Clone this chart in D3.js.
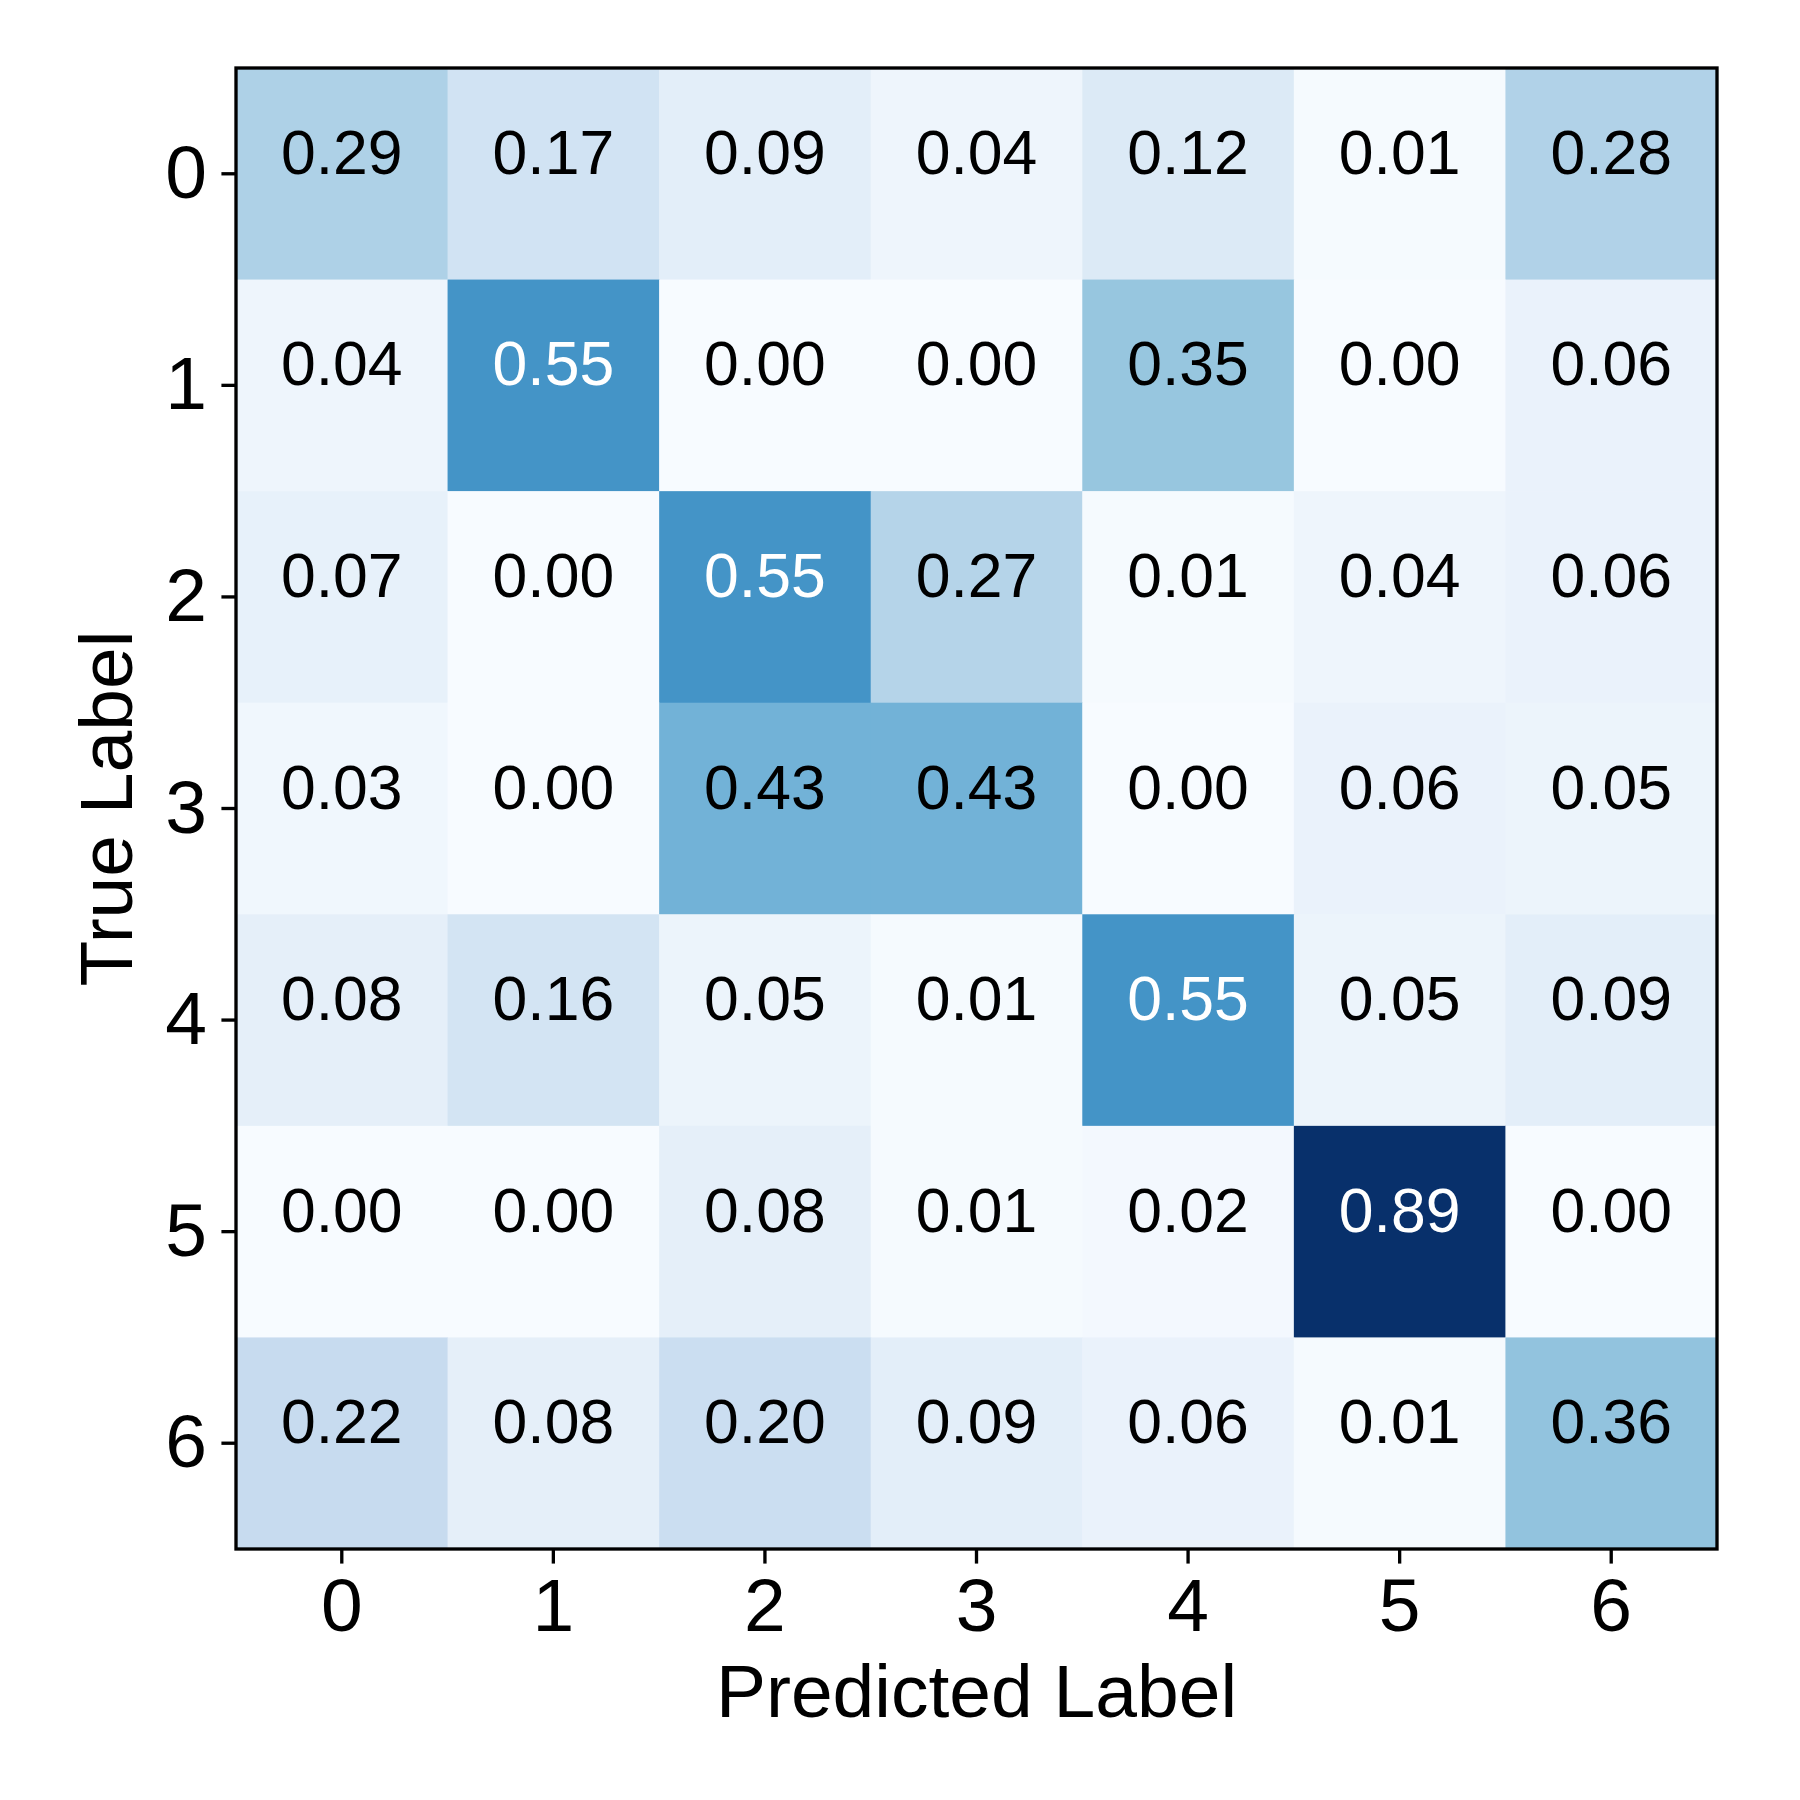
<!DOCTYPE html>
<html>
<head>
<meta charset="utf-8">
<script src="https://cdn.jsdelivr.net/npm/d3@7"></script>
<style>
  body { margin: 0; background: #fff; }
  text { font-family: "Liberation Sans", Arial, sans-serif; }
</style>
</head>
<body>
<div id="chart"></div>
<script>
// confusion matrix, rows = true label, cols = predicted label
const labels = ["0", "1", "2", "3", "4", "5", "6"];
const row0 = [0.29, 0.17, 0.09, 0.04, 0.12, 0.01, 0.28];
const row1 = [0.04, 0.55, 0.00, 0.00, 0.35, 0.00, 0.06];
const row2 = [0.07, 0.00, 0.55, 0.27, 0.01, 0.04, 0.06];
const row3 = [0.03, 0.00, 0.43, 0.43, 0.00, 0.06, 0.05];
const row4 = [0.08, 0.16, 0.05, 0.01, 0.55, 0.05, 0.09];
const row5 = [0.00, 0.00, 0.08, 0.01, 0.02, 0.89, 0.00];
const row6 = [0.22, 0.08, 0.20, 0.09, 0.06, 0.01, 0.36];
const matrix = [row0, row1, row2, row3, row4, row5, row6];

// colorbrewer Blues (same stops as matplotlib)
const blues = ["#f7fbff", "#deebf7", "#c6dbef", "#9ecae1", "#6baed6", "#4292c6", "#2171b5", "#08519c", "#08306b"];

drawMatrix();

function drawMatrix() {
	const width = 1800;
	const height = 1800;
	const margin = {top: 68, right: 83, bottom: 251, left: 236};
	const pt = 300 / 72; // pixels per point

	const cells = [];
	matrix.forEach((row, i) => row.forEach((v, j) => cells.push({row: labels[i], col: labels[j], value: v})));

	const vmax = d3.max(cells, d => d.value);
	const vmin = d3.min(cells, d => d.value);
	const color = d3.scaleLinear()
		.domain(blues.map((c, i) => vmin + (vmax - vmin) * i / (blues.length - 1)))
		.range(blues)
		.interpolate(d3.interpolateRgb);
	const thresh = (vmax + vmin) / 2;

	const x = d3.scaleBand().domain(labels).range([margin.left, width - margin.right]);
	const y = d3.scaleBand().domain(labels).range([margin.top, height - margin.bottom]);

	const svg = d3.select("#chart").append("svg")
		.attr("width", width)
		.attr("height", height)
		.attr("viewBox", [0, 0, width, height]);

	svg.append("rect").attr("width", width).attr("height", height).attr("fill", "#fff");

	svg.append("g")
	  .selectAll("rect")
	  .data(cells)
	  .join("rect")
		.attr("x", d => x(d.col))
		.attr("y", d => y(d.row))
		.attr("width", x.bandwidth() + 0.5)
		.attr("height", y.bandwidth() + 0.5)
		.attr("fill", d => color(d.value));

	svg.append("g")
		.attr("font-size", 15 * pt)
		.attr("text-anchor", "middle")
	  .selectAll("text")
	  .data(cells)
	  .join("text")
		.attr("x", d => x(d.col) + x.bandwidth() / 2)
		.attr("y", d => y(d.row) + y.bandwidth() / 2)
		.attr("fill", d => d.value > thresh ? "#fff" : "#000")
		.text(d => d.value.toFixed(2));

	const tick = 3.5 * pt;

	svg.append("g")
		.attr("transform", `translate(0,${height - margin.bottom})`)
		.call(d3.axisBottom(x).tickSize(tick).tickPadding(tick).tickSizeOuter(0))
		.call(g => g.select(".domain").remove())
		.call(g => g.selectAll(".tick line").attr("stroke", "#000").attr("stroke-width", 0.8 * pt))
		.call(g => g.selectAll(".tick text").attr("fill", "#000").attr("font-size", 18 * pt)
			.attr("font-family", "Liberation Sans, Arial, sans-serif"));

	svg.append("g")
		.attr("transform", `translate(${margin.left},0)`)
		.call(d3.axisLeft(y).tickSize(tick).tickPadding(tick).tickSizeOuter(0))
		.call(g => g.select(".domain").remove())
		.call(g => g.selectAll(".tick line").attr("stroke", "#000").attr("stroke-width", 0.8 * pt))
		.call(g => g.selectAll(".tick text").attr("fill", "#000").attr("font-size", 18 * pt)
			.attr("font-family", "Liberation Sans, Arial, sans-serif"));

	// frame
	svg.append("rect")
		.attr("x", margin.left)
		.attr("y", margin.top)
		.attr("width", width - margin.left - margin.right)
		.attr("height", height - margin.top - margin.bottom)
		.attr("fill", "none")
		.attr("stroke", "#000")
		.attr("stroke-width", 0.8 * pt);

	svg.append("text")
		.attr("x", (margin.left + width - margin.right) / 2)
		.attr("y", 1717)
		.attr("text-anchor", "middle")
		.attr("font-size", 18 * pt)
		.text("Predicted Label");

	svg.append("text")
		.attr("transform", `translate(132,${(margin.top + height - margin.bottom) / 2}) rotate(-90)`)
		.attr("text-anchor", "middle")
		.attr("font-size", 18 * pt)
		.text("True Label");
}
</script>
</body>
</html>
